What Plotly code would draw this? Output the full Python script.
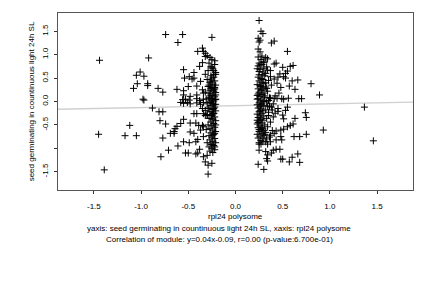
import plotly.graph_objects as go

# ---- data ----
left_outer = [(-1.44,0.88),(-1.45,-0.70),(-1.39,-1.46),(-0.92,0.93),(-1.01,0.63),(-1.05,0.56),
    (-0.97,0.54),(-1.08,0.28),(-1.04,0.38),(-0.93,0.38),(-0.93,0.34),(-0.98,0.05),(-0.97,0.03),
    (-0.88,-0.14),(-1.12,-0.51),(-1.17,-0.73),(-1.05,-0.73),(-0.82,0.28),(-0.77,0.20),(-0.81,-0.22),
    (-0.77,-0.22),(-0.80,-0.41),(-0.74,-0.48),(-0.77,-0.78),(-0.79,-1.18),(-0.71,-1.04),(-0.74,1.43),
    (-0.56,1.43),(-0.61,1.26),(-0.62,0.26),(-0.55,0.68),(-0.69,-0.68),(-0.65,-0.68),(-0.64,-0.58),
    (-0.62,-0.53),(-0.58,-0.47),(-0.55,-0.38),(-0.61,-0.95),(-0.55,-0.86),(-0.53,-1.10),(-0.50,-1.10),
    (-0.65,-0.64)]

left_cluster = [(-0.25,1.37),(-0.35,1.14),(-0.34,1.07),(-0.32,1.03),(-0.40,1.07),(-0.32,0.96),
    (-0.27,0.94),(-0.22,0.87),(-0.35,0.83),(-0.38,0.75),(-0.26,0.75),(-0.25,0.72),(-0.23,0.66),
    (-0.44,0.62),(-0.32,0.58),(-0.21,0.58),(-0.49,0.53),(-0.46,0.48),(-0.54,0.50),(-0.44,0.50),
    (-0.25,0.50),(-0.26,0.46),(-0.37,0.43),(-0.55,0.23),(-0.50,0.32),(-0.41,0.33),(-0.35,0.25),
    (-0.28,0.35),(-0.26,0.28),(-0.23,0.25),(-0.55,0.14),(-0.48,0.11),(-0.41,0.14),(-0.34,0.18),
    (-0.28,0.18),(-0.21,0.14),(-0.56,0.04),(-0.53,0.05),(-0.49,0.03),(-0.41,0.06),(-0.38,0.02),
    (-0.34,0.05),(-0.28,0.07),(-0.25,0.03),(-0.21,0.05),(-0.58,-0.02),(-0.55,-0.04),(-0.51,-0.02),
    (-0.48,-0.05),(-0.41,-0.03),(-0.37,-0.06),(-0.34,-0.02),(-0.30,-0.05),(-0.26,-0.01),(-0.23,-0.07),
    (-0.44,-0.26),(-0.41,-0.26),(-0.35,-0.15),(-0.32,-0.19),(-0.28,-0.15),(-0.25,-0.22),(-0.23,-0.26),
    (-0.25,-0.29),(-0.30,-0.29),(-0.34,-0.26),(-0.48,-0.46),(-0.42,-0.46),(-0.39,-0.51),(-0.35,-0.51),
    (-0.48,-0.65),(-0.44,-0.68),(-0.37,-0.61),(-0.34,-0.54),(-0.49,-0.88),(-0.42,-0.86),(-0.40,-0.81),
    (-0.34,-0.75),(-0.42,-1.12),(-0.40,-1.10),(-0.38,-1.02),(-0.34,-1.18),(-0.32,-1.29),(-0.25,-1.32),
    (-0.29,-1.36),(-0.29,-1.55)]

left_column = [(-0.30,0.98),(-0.25,0.90),(-0.28,0.82),(-0.22,0.79),(-0.24,0.70),(-0.29,0.66),
    (-0.21,0.62),(-0.26,0.55),(-0.23,0.52),(-0.30,0.47),(-0.22,0.44),(-0.27,0.40),(-0.24,0.37),
    (-0.21,0.35),(-0.29,0.32),(-0.25,0.30),(-0.22,0.27),(-0.27,0.24),(-0.23,0.22),(-0.21,0.19),
    (-0.26,0.16),(-0.24,0.13),(-0.22,0.10),(-0.28,0.08),(-0.25,0.06),(-0.21,0.04),(-0.23,0.01),
    (-0.27,-0.02),(-0.24,-0.04),(-0.21,-0.06),(-0.26,-0.09),(-0.22,-0.12),(-0.29,-0.14),(-0.24,-0.17),
    (-0.21,-0.20),(-0.27,-0.22),(-0.23,-0.25),(-0.30,-0.28),(-0.25,-0.30),(-0.22,-0.33),(-0.28,-0.36),
    (-0.24,-0.38),(-0.21,-0.41),(-0.26,-0.44),(-0.23,-0.47),(-0.29,-0.50),(-0.25,-0.52),(-0.22,-0.55),
    (-0.27,-0.58),(-0.24,-0.61),(-0.21,-0.64),(-0.26,-0.67),(-0.23,-0.70),(-0.28,-0.73),(-0.25,-0.76),
    (-0.22,-0.79),(-0.27,-0.82),(-0.24,-0.85),(-0.21,-0.88),(-0.26,-0.91),(-0.23,-0.94),(-0.28,-0.97),
    (-0.25,-1.00),(-0.22,-1.03),(-0.27,-1.06),(-0.24,-1.09),(-0.30,-0.88),(-0.31,-0.60),(-0.32,-0.30),
    (-0.31,0.05),(-0.32,0.20),(-0.30,-1.15),(-0.23,-0.15),(-0.26,-0.36),(-0.22,-0.68),(-0.25,-0.92),
    (-0.22,0.30),(-0.27,0.12),(-0.24,-0.26),(-0.21,-0.50),(-0.24,-0.72),(-0.22,-0.97),(-0.26,0.42),
    (-0.23,0.58)]

right_column = [(0.24,0.95),(0.27,0.90),(0.30,0.86),(0.25,0.82),(0.28,0.79),(0.33,0.74),(0.23,0.70),
    (0.26,0.68),(0.29,0.63),(0.31,0.55),(0.24,0.52),(0.27,0.49),(0.35,0.45),(0.25,0.44),(0.28,0.41),
    (0.30,0.38),(0.23,0.36),(0.26,0.34),(0.32,0.31),(0.29,0.29),(0.24,0.27),(0.27,0.24),(0.34,0.22),
    (0.25,0.20),(0.30,0.18),(0.28,0.15),(0.23,0.13),(0.26,0.11),(0.31,0.09),(0.36,0.08),(0.24,0.06),
    (0.27,0.03),(0.29,0.01),(0.33,-0.01),(0.25,-0.03),(0.28,-0.05),(0.23,-0.07),(0.30,-0.09),
    (0.26,-0.11),(0.38,-0.12),(0.24,-0.14),(0.27,-0.16),(0.32,-0.18),(0.29,-0.20),(0.25,-0.22),
    (0.35,-0.23),(0.28,-0.25),(0.23,-0.27),(0.26,-0.29),(0.30,-0.31),(0.40,-0.33),(0.24,-0.34),
    (0.33,-0.36),(0.27,-0.38),(0.29,-0.40),(0.25,-0.42),(0.37,-0.44),(0.28,-0.46),(0.23,-0.48),
    (0.31,-0.50),(0.26,-0.52),(0.34,-0.54),(0.24,-0.56),(0.29,-0.58),(0.27,-0.60),(0.39,-0.62),
    (0.25,-0.64),(0.32,-0.66),(0.28,-0.68),(0.23,-0.70),(0.30,-0.72),(0.26,-0.74),(0.36,-0.76),
    (0.24,-0.78),(0.33,-0.80),(0.27,-0.83),(0.29,-0.86),(0.25,-0.88),(0.31,-0.70),(0.28,-0.55),
    (0.23,-0.40),(0.35,-0.30),(0.26,-0.20),(0.30,0.00),(0.24,0.16),(0.27,0.32),(0.32,0.40),
    (0.25,0.57),(0.29,0.47),(0.28,0.25),(0.23,0.05),(0.34,-0.10),(0.26,-0.35),(0.30,-0.62),
    (0.24,-0.45),(0.31,0.12),(0.27,-0.07),(0.33,0.28),(0.25,-0.60),(0.29,-0.78)]

right_cluster = [(0.25,1.73),(0.27,1.50),(0.29,1.45),(0.24,1.35),(0.26,1.31),(0.25,1.27),(0.38,1.25),
    (0.41,1.29),(0.55,1.07),(0.24,1.12),(0.26,1.06),(0.28,0.97),(0.32,0.94),(0.34,0.91),(0.30,0.83),
    (0.26,0.78),(0.24,0.76),(0.41,0.80),(0.43,0.82),(0.58,0.75),(0.61,0.77),(0.50,0.73),(0.30,0.71),
    (0.34,0.67),(0.37,0.66),(0.55,0.65),(0.53,0.60),(0.47,0.59),(0.25,0.64),(0.28,0.57),(0.32,0.60),
    (0.37,0.53),(0.41,0.48),(0.51,0.53),(0.53,0.50),(0.45,0.52),(0.60,0.44),(0.66,0.46),(0.80,0.38),
    (0.57,0.33),(0.63,0.26),(0.44,0.39),(0.48,0.30),(0.38,0.35),(0.46,0.18),(0.42,0.12),(0.37,0.07),
    (0.41,0.06),(0.44,0.07),(0.49,0.06),(0.51,0.05),(0.56,0.07),(0.67,0.06),(0.70,0.06),(0.55,-0.12),
    (0.53,-0.19),(0.45,-0.15),(0.45,-0.21),(0.74,-0.24),(0.75,-0.34),(0.50,-0.29),(0.51,-0.37),
    (0.63,-0.36),(0.61,-0.48),(0.58,-0.51),(0.55,-0.54),(0.51,-0.59),(0.48,-0.61),(0.43,-0.63),
    (0.41,-0.68),(0.37,-0.72),(0.62,-0.75),(0.68,-0.75),(0.75,-0.70),(0.48,-0.75),(0.49,-0.82),
    (0.43,-0.82),(0.38,-1.10),(0.40,-1.04),(0.43,-1.02),(0.47,-1.02),(0.66,-1.12),(0.60,-1.19),
    (0.57,-1.29),(0.50,-1.23),(0.48,-1.23),(0.68,-1.30),(0.32,-1.07),(0.34,-1.14),(0.33,-1.22),
    (0.34,-1.27),(0.24,-1.34),(0.30,-1.45),(0.27,-0.91),(0.25,-0.91),(0.32,-0.86),(0.34,-0.91),
    (0.37,-0.86),(0.25,-1.04),(0.36,-0.10),(0.40,-0.05),(0.35,0.02),(0.39,-0.18),(0.42,-0.25)]

right_outer = [(0.89,0.14),(1.365,-0.12),(0.93,-0.61),(1.46,-0.84)]

fit_slope = 0.04
fit_intercept = -0.09
x_range = [-1.88, 1.88]
y_range = [-1.89, 1.89]
tick_vals = [-1.5, -1.0, -0.5, 0.0, 0.5, 1.0, 1.5]
y_tick_text = ["-1.5", "", "-0.5", "0.0", "0.5", "1.0", "1.5"]
x_tick_text = ["-1.5", "-1.0", "-0.5", "0.0", "0.5", "1.0", "1.5"]
x_title = "rpl24 polysome"
y_title = "seed germinating in countinuous light 24h SL"
caption1 = "yaxis: seed germinating in countinuous light 24h SL, xaxis: rpl24 polysome"
caption2 = "Correlation of module: y=0.04x-0.09, r=0.00 (p-value:6.700e-01)"

points = left_outer + left_cluster + left_column + right_column + right_cluster + right_outer
xs = [p[0] for p in points]
ys = [p[1] for p in points]

FONT = "Liberation Sans, Arial, sans-serif"

fig = go.Figure()
fig.add_trace(go.Scatter(
    x=x_range, y=[fit_slope * v + fit_intercept for v in x_range],
    mode="lines", line=dict(color="#d0d0d0", width=1.3), hoverinfo="skip", showlegend=False))
fig.add_trace(go.Scatter(
    x=xs, y=ys, mode="markers", showlegend=False,
    marker=dict(symbol="cross-thin", size=5, color="black",
                line=dict(color="black", width=1))))

axis_common = dict(showgrid=False, zeroline=False, showline=True, mirror=True,
                   linecolor="#555555", linewidth=1, ticks="outside", ticklen=3,
                   tickcolor="#333333", tickfont=dict(family=FONT, size=8, color="black"))

fig.update_xaxes(range=x_range, tickvals=tick_vals, ticktext=x_tick_text,
                 ticklabelstandoff=5, **axis_common)
fig.update_yaxes(range=y_range, tickvals=tick_vals, ticktext=y_tick_text, tickangle=-90,
                 ticklabelstandoff=3,
                 title=dict(text=y_title, font=dict(family=FONT, size=8, color="black"), standoff=4),
                 **axis_common)

ann_font = dict(family=FONT, size=8, color="black")
fig.add_annotation(text=x_title, xref="paper", yref="paper", x=0.5, y=0, yanchor="middle",
                   yshift=-26, showarrow=False, font=ann_font)
fig.add_annotation(text=caption1, xref="paper", yref="paper", x=0.454, y=0, yanchor="middle",
                   yshift=-38, showarrow=False, font=ann_font)
fig.add_annotation(text=caption2, xref="paper", yref="paper", x=0.454, y=0, yanchor="middle",
                   yshift=-49, showarrow=False, font=ann_font)

fig.update_layout(width=432, height=288, margin=dict(l=58, r=19, t=13, b=98),
                  paper_bgcolor="white", plot_bgcolor="white",
                  font=dict(family=FONT, size=8, color="black"))

fig.write_html("out.html")
